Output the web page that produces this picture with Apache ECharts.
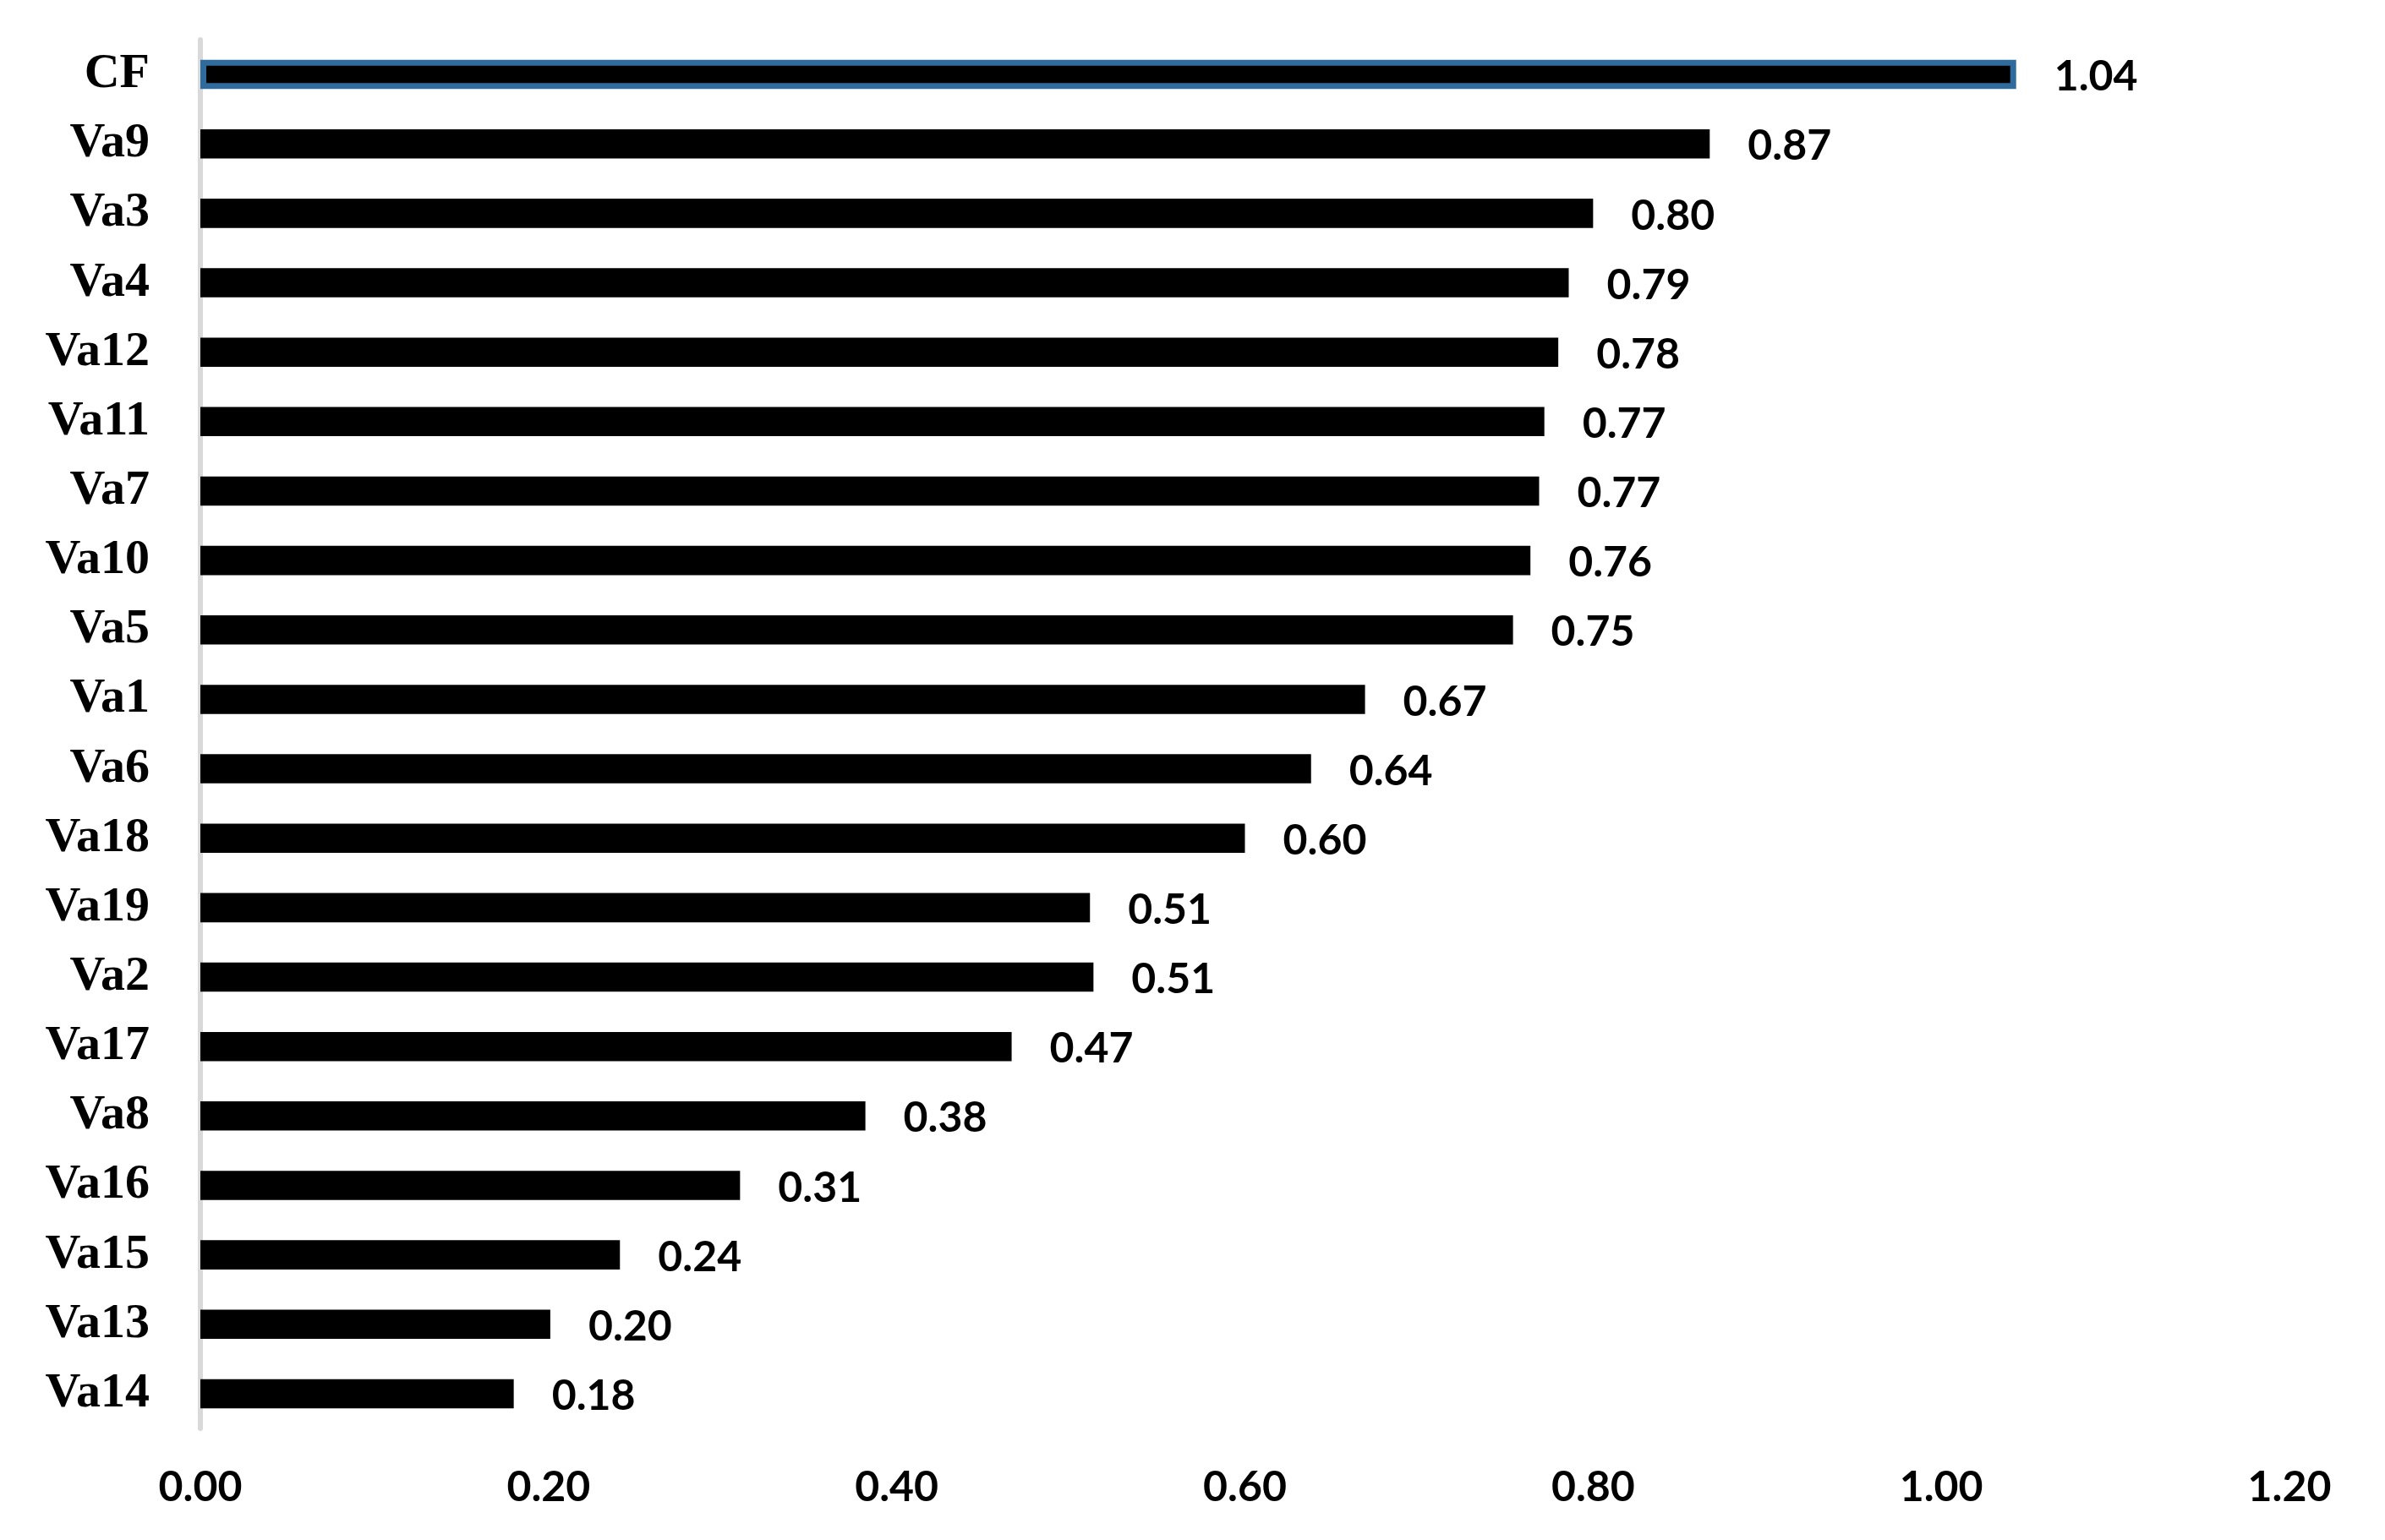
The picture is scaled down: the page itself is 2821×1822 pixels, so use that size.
<!DOCTYPE html>
<html>
<head>
<meta charset="utf-8">
<script src="https://cdn.jsdelivr.net/npm/echarts@6/dist/echarts.min.js"></script>
<style>
html,body{margin:0;padding:0;background:#fff;}
#c{width:2821px;height:1822px;}
</style>
</head>
<body>
<div id="c"></div>
<script>
const categories = ['CF','Va9','Va3','Va4','Va12','Va11','Va7','Va10','Va5','Va1','Va6','Va18','Va19','Va2','Va17','Va8','Va16','Va15','Va13','Va14'];
const values = [1.043,0.867,0.800,0.786,0.780,0.772,0.769,0.764,0.754,0.669,0.638,0.600,0.511,0.513,0.466,0.382,0.310,0.241,0.201,0.180];
const xTicks = [0, 0.2, 0.4, 0.6, 0.8, 1.0, 1.2];

const chart = echarts.init(document.getElementById('c'));
const data = values.map((v, i) => {
  if (i === 0) {
    return { value: v, itemStyle: { color: '#000', borderColor: '#2f6b9c', borderWidth: 7 } };
  }
  return { value: v };
});
chart.setOption({
  animation: false,
  backgroundColor: '#fff',
  grid: { left: 237, right: 113, top: 47, bottom: 132, containLabel: false },
  xAxis: {
    type: 'value',
    min: xTicks[0],
    max: xTicks[xTicks.length - 1],
    interval: 0.2,
    axisLine: { show: false },
    axisTick: { show: false },
    splitLine: { show: false },
    axisLabel: {
      margin: 45,
      fontFamily: 'Lato',
      fontWeight: 'bold',
      fontSize: 50,
      color: '#000',
      formatter: v => v.toFixed(2)
    }
  },
  yAxis: {
    type: 'category',
    data: categories,
    inverse: true,
    axisLine: { show: true, lineStyle: { color: '#d9d9d9', width: 6 } },
    axisTick: { show: false },
    axisLabel: {
      margin: 60,
      fontFamily: 'Liberation Serif',
      fontWeight: 'bold',
      fontSize: 58,
      color: '#000'
    }
  },
  series: [{
    type: 'bar',
    data: data,
    barWidth: '42%',
    itemStyle: { color: '#000' },
    label: {
      show: true,
      position: 'right',
      distance: 45,
      offset: [0, 3],
      fontFamily: 'Lato',
      fontWeight: 'bold',
      fontSize: 50,
      color: '#000',
      formatter: p => p.value.toFixed(2)
    }
  }]
});
</script>
</body>
</html>
